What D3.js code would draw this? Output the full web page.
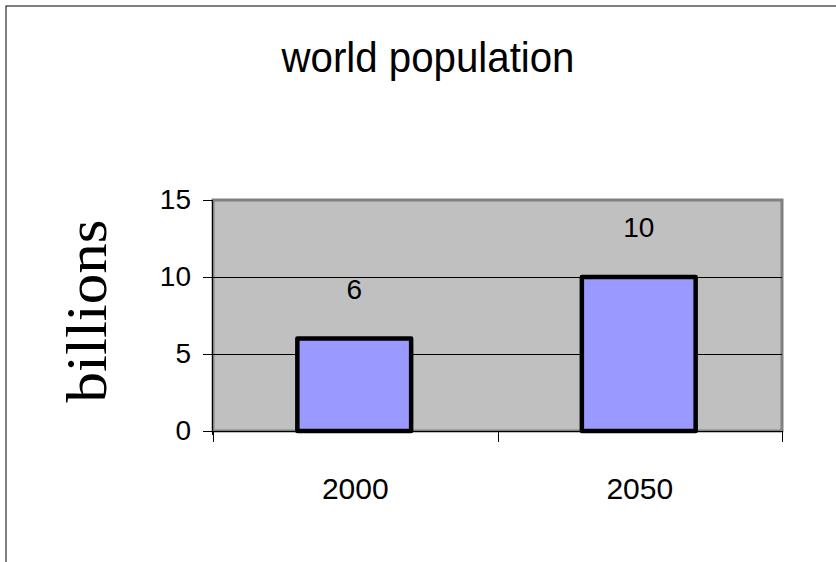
<!DOCTYPE html>
<html>
<head>
<meta charset="utf-8">
<script src="https://cdn.jsdelivr.net/npm/d3@7/dist/d3.min.js"></script>
<style>
  html, body { margin: 0; padding: 0; background: #fff; overflow: hidden; }
  svg { display: block; }
</style>
</head>
<body>
<script>
// Chart data
const years = ["2000", "2050"];
const population = [6, 10];
const yTicks = [0, 5, 10, 15];
const chartTitle = "world population";
const yTitle = "billions";

const W = 836, H = 562;
const plot = { left: 213, top: 200, right: 782, bottom: 431 };

const svg = d3.select("body").append("svg")
  .attr("width", W).attr("height", H);

// Outer chart border (runs off the right and bottom edges)
svg.append("rect")
  .attr("x", 6).attr("y", 6)
  .attr("width", W + 20).attr("height", H + 20)
  .attr("fill", "#fff").attr("stroke", "#000").attr("stroke-width", 1);

const x = d3.scaleBand()
  .domain(years)
  .range([plot.left, plot.right])
  .paddingInner(0.6)
  .paddingOuter(0.3);

const xCat = d3.scaleBand()
  .domain(years)
  .range([plot.left, plot.right]);

const y = d3.scaleLinear()
  .domain([0, 15])
  .range([plot.bottom, plot.top]);

// Plot area background
svg.append("rect")
  .attr("x", plot.left).attr("y", plot.top)
  .attr("width", plot.right - plot.left)
  .attr("height", plot.bottom - plot.top)
  .attr("fill", "#C0C0C0")
  .attr("stroke", "#808080").attr("stroke-width", 3);

// Horizontal gridlines
svg.append("g")
  .selectAll("line")
  .data(yTicks.filter(d => d > 0 && d < 15))
  .join("line")
  .attr("x1", plot.left).attr("x2", plot.right)
  .attr("y1", d => Math.round(y(d)) + 0.5).attr("y2", d => Math.round(y(d)) + 0.5)
  .attr("stroke", "#000").attr("stroke-width", 1);

// Bars
svg.append("g")
  .selectAll("rect")
  .data(years.map((k, i) => ({ k, v: population[i] })))
  .join("rect")
  .attr("x", d => x(d.k) - 1)
  .attr("y", d => y(d.v))
  .attr("width", x.bandwidth())
  .attr("height", d => y(0) - y(d.v))
  .attr("fill", "#9999FF")
  .attr("stroke", "#000").attr("stroke-width", 4.5)
  .attr("stroke-linejoin", "round");

// Y axis
const yAxis = svg.append("g")
  .attr("transform", `translate(${plot.left},0)`)
  .call(d3.axisLeft(y).tickValues(yTicks).tickSize(10).tickPadding(12));
yAxis.select(".domain").attr("d", `M-0.5,${plot.top}V${plot.bottom + 4}`).attr("stroke", "#000");
yAxis.selectAll("text")
  .attr("font-family", "Liberation Sans, Arial, sans-serif")
  .attr("font-size", 28).attr("fill", "#000");

// X axis: ticks on category boundaries
const xAxisG = svg.append("g");
xAxisG.append("line")
  .attr("x1", plot.left).attr("x2", plot.right)
  .attr("y1", plot.bottom + 0.5).attr("y2", plot.bottom + 0.5)
  .attr("stroke", "#000");
const bounds = years.map(k => xCat(k)).concat([xCat(years[years.length - 1]) + xCat.bandwidth()]);
xAxisG.selectAll("line.tick")
  .data(bounds)
  .join("line")
  .attr("class", "tick")
  .attr("x1", d => Math.round(d) + 0.5).attr("x2", d => Math.round(d) + 0.5)
  .attr("y1", plot.bottom).attr("y2", plot.bottom + 11)
  .attr("stroke", "#000");
xAxisG.selectAll("text")
  .data(years)
  .join("text")
  .attr("x", d => xCat(d) + xCat.bandwidth() / 2)
  .attr("y", 499)
  .attr("text-anchor", "middle")
  .attr("font-family", "Liberation Sans, Arial, sans-serif")
  .attr("font-size", 30)
  .text(d => d);

// Value labels
svg.append("g")
  .selectAll("text")
  .data(years.map((k, i) => ({ k, v: population[i] })))
  .join("text")
  .attr("x", d => x(d.k) + x.bandwidth() / 2 - 1)
  .attr("y", d => y(d.v) - 40)
  .attr("text-anchor", "middle")
  .attr("font-family", "Liberation Sans, Arial, sans-serif")
  .attr("font-size", 28)
  .text(d => d.v);

// Title
svg.append("text")
  .attr("x", 428).attr("y", 72)
  .attr("text-anchor", "middle")
  .attr("font-family", "Liberation Sans, Arial, sans-serif")
  .attr("font-size", 42)
  .attr("textLength", 293).attr("lengthAdjust", "spacingAndGlyphs")
  .text(chartTitle);

// Y axis title
svg.append("text")
  .attr("transform", "translate(106,311) rotate(-90)")
  .attr("text-anchor", "middle")
  .attr("font-family", "Liberation Serif, Times New Roman, serif")
  .attr("font-size", 56)
  .attr("textLength", 183).attr("lengthAdjust", "spacingAndGlyphs")
  .text(yTitle);
</script>
</body>
</html>
